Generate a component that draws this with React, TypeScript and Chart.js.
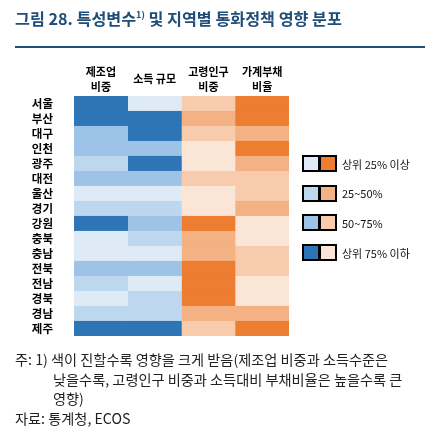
import React, { useEffect, useRef } from "react";
import { Chart, registerables } from "chart.js";

Chart.register(...registerables);

const regions = ["서울", "부산", "대구", "인천", "광주", "대전", "울산", "경기", "강원", "충북", "충남", "전북", "전남", "경북", "경남", "제주"];
const headers = [["제조업", "비중"], ["소득 규모"], ["고령인구", "비중"], ["가계부채", "비율"]];

// quartile rank per region: 1 = 상위 25% 이상, 2 = 25~50%, 3 = 50~75%, 4 = 상위 75% 이하
const manufacturingRank = [4, 4, 3, 3, 2, 3, 1, 2, 4, 1, 1, 3, 2, 1, 2, 4];
const incomeRank = [1, 4, 4, 3, 4, 3, 1, 2, 3, 2, 1, 3, 1, 2, 2, 4];
const elderlyRank = [3, 2, 3, 4, 4, 3, 4, 4, 1, 2, 2, 1, 1, 1, 2, 3];
const debtRank = [1, 1, 2, 1, 2, 3, 3, 2, 4, 4, 3, 3, 4, 4, 2, 1];

const legendLabels = ["상위 25% 이상", "25~50%", "50~75%", "상위 75% 이하"];
const blueScale = ["#DEEBF7", "#BDD7EE", "#9DC3E6", "#2E75B6"];
const orangeScale = ["#ED7D31", "#F4B183", "#F8CBAD", "#FBE5D6"];

const cellSpan = 1;
const FONT = "'Noto Sans CJK KR', 'Noto Sans', sans-serif";

const columns = [
  { ranks: manufacturingRank, scale: blueScale },
  { ranks: incomeRank, scale: blueScale },
  { ranks: elderlyRank, scale: orangeScale },
  { ranks: debtRank, scale: orangeScale },
];

export default function App() {
  const canvasRef = useRef<HTMLCanvasElement | null>(null);

  useEffect(() => {
    document.body.style.margin = "0";
    const canvas = canvasRef.current;
    if (!canvas) return;
    const chart = new Chart(canvas, {
      type: "bar",
      data: {
        labels: regions,
        datasets: columns.map((col, i) => ({
          label: headers[i].join(" "),
          data: col.ranks.map(() => cellSpan),
          backgroundColor: col.ranks.map((r) => col.scale[r - 1]),
          borderColor: col.ranks.map((r) => col.scale[r - 1]),
          borderWidth: 0.6,
          borderSkipped: false,
          barPercentage: 1,
          categoryPercentage: 1,
        })),
      },
      options: {
        indexAxis: "y",
        animation: false,
        responsive: false,
        events: [],
        layout: { padding: { left: 0, top: 56, right: 136, bottom: 94 } },
        plugins: { legend: { display: false }, tooltip: { enabled: false } },
        scales: {
          x: { type: "linear", stacked: true, min: 0, max: columns.length * cellSpan, display: false },
          x2: {
            type: "category",
            position: "top",
            labels: headers as any,
            offset: true,
            grid: { display: false },
            border: { display: false },
            ticks: {
              color: "#000",
              font: { family: FONT, size: 11, weight: "bold", lineHeight: 1.4 },
              crossAlign: "center",
              padding: 1,
              maxRotation: 0,
              autoSkip: false,
            },
            afterFit: (s: any) => {
              s.height = 40;
            },
          },
          y: {
            type: "category",
            stacked: true,
            grid: { display: false },
            border: { display: false },
            ticks: {
              color: "#000",
              font: { family: FONT, size: 11.5, weight: "bold" },
              padding: 13,
              autoSkip: false,
            },
            afterFit: (s: any) => {
              s.width = 74;
            },
          },
        },
      } as any,
    });
    return () => chart.destroy();
  }, []);

  return (
    <div style={{ position: "absolute", left: 0, top: 0, width: 425, height: 430, background: "#fff", fontFamily: FONT, overflow: "hidden" }}>
      <canvas ref={canvasRef} width={425} height={430} style={{ position: "absolute", left: 0, top: 0, width: 425, height: 430 }} />
      <div style={{ position: "absolute", left: 15, top: 8, fontSize: 16.2, lineHeight: "20px", fontWeight: "bold", color: "#1F4E79", whiteSpace: "nowrap" }}>
        그림 28. 특성변수<sup style={{ fontSize: 9, verticalAlign: "7px", lineHeight: 0 }}>1)</sup> 및 지역별 통화정책 영향 분포
      </div>
      <div style={{ position: "absolute", left: 15, top: 46, width: 410, height: 1.5, background: "#1F4E79" }} />
      {legendLabels.map((lbl, i) => (
        <div key={lbl} style={{ position: "absolute", left: 302, top: 155 + i * 29.7, height: 17, display: "flex", alignItems: "center" }}>
          <div style={{ display: "flex", gap: 3, padding: 2, background: "#000", boxSizing: "border-box", height: 17 }}>
            <div style={{ width: 14, height: 13, background: blueScale[i] }} />
            <div style={{ width: 14, height: 13, background: orangeScale[i] }} />
          </div>
          <span style={{ marginLeft: 5, fontSize: 11, color: "#111", whiteSpace: "nowrap" }}>{lbl}</span>
        </div>
      ))}
      <div style={{ position: "absolute", left: 15, top: 350, fontSize: 14.2, lineHeight: "19.5px", color: "#222", whiteSpace: "nowrap" }}>
        <div>주: 1) 색이 진할수록 영향을 크게 받음(제조업 비중과 소득수준은</div>
        <div style={{ paddingLeft: 38 }}>낮을수록, 고령인구 비중과 소득대비 부채비율은 높을수록 큰</div>
        <div style={{ paddingLeft: 38 }}>영향)</div>
        <div>자료: 통계청, ECOS</div>
      </div>
    </div>
  );
}
